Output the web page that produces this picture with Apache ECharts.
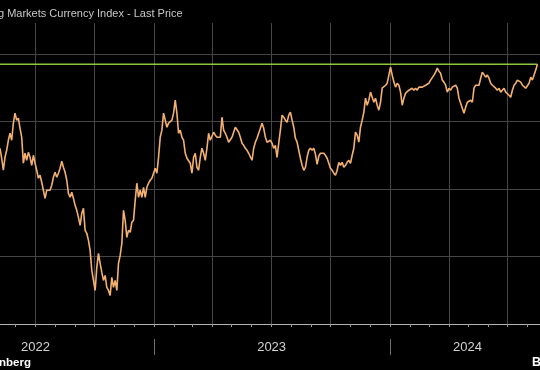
<!DOCTYPE html>
<html><head><meta charset="utf-8">
<script src="https://cdn.jsdelivr.net/npm/echarts@6/dist/echarts.min.js"></script>
<style>html,body{margin:0;padding:0;background:#000;}#c{width:540px;height:370px;}</style>
</head><body><div id="c"></div>
<script>
const titleText = 'g Markets Currency Index - Last Price';
const sourceLeft = 'nberg';
const sourceRight = 'B';
const firstDate = '2022-05-08';
const lastDate = '2024-08-16';
const axisStart = '2022-05-08';
const axisEnd = '2024-08-20';
const highValue = 1742.5;
const values = [
1680.2,1672.8,1663.9,1673.5,1678.7,1686.1,1691.3,1686.1,1698.8,1706.2,
1701.0,1702.5,1695.0,1688.4,1669.1,1676.5,1671.3,1677.2,1673.5,1667.6,
1675.0,1669.1,1663.9,1658.0,1660.2,1655.0,1649.1,1643.1,1649.1,1650.5,
1649.1,1652.8,1658.7,1662.4,1658.7,1661.7,1665.4,1670.6,1666.1,1662.4,
1656.5,1646.8,1643.9,1647.6,1643.1,1637.9,1634.2,1629.0,1623.1,1632.0,
1635.7,1619.4,1617.2,1612.0,1604.5,1589.7,1582.3,1574.9,1591.9,1602.3,
1594.9,1588.2,1582.3,1586.0,1577.1,1574.9,1571.2,1584.5,1577.1,1582.3,
1574.9,1594.9,1600.8,1609.7,1634.2,1626.8,1614.2,1619.4,1617.9,1625.3,
1626.8,1641.6,1654.3,1643.9,1649.1,1643.9,1651.3,1643.9,1651.3,1654.3,
1656.5,1658.0,1661.7,1665.4,1661.7,1673.5,1688.4,1693.6,1706.2,1701.0,
1695.8,1698.8,1699.5,1701.0,1706.2,1715.8,1706.2,1691.3,1693.6,1688.4,
1686.1,1676.5,1672.8,1673.5,1669.1,1661.7,1673.5,1676.5,1666.1,1663.9,
1673.5,1680.2,1676.5,1671.3,1680.2,1691.3,1686.1,1689.1,1692.1,1689.9,
1688.4,1687.6,1688.4,1703.2,1693.6,1691.3,1688.4,1684.7,1686.1,1688.4,
1692.1,1695.8,1695.0,1692.1,1688.4,1683.9,1682.4,1680.2,1678.7,1676.5,
1677.2,1671.3,1680.2,1684.7,1687.6,1691.3,1695.0,1698.8,1695.0,1688.4,
1684.7,1683.9,1686.1,1683.9,1680.2,1682.4,1673.5,1683.9,1693.6,1704.7,
1703.2,1701.0,1699.5,1704.7,1706.9,1701.0,1695.8,1687.6,1684.7,1678.7,
1672.8,1667.6,1663.9,1666.1,1673.5,1678.7,1680.2,1678.7,1680.2,1675.8,
1668.3,1674.3,1676.5,1677.2,1676.5,1675.0,1672.8,1669.1,1665.4,1663.9,
1661.7,1660.2,1663.9,1669.8,1667.6,1669.8,1666.1,1667.6,1669.8,1671.3,
1669.1,1675.0,1680.2,1692.1,1689.9,1684.7,1695.8,1701.0,1706.9,1717.3,
1712.1,1715.8,1721.8,1718.0,1714.3,1717.3,1712.1,1708.4,1714.3,1724.7,
1725.5,1726.9,1728.4,1734.4,1740.3,1734.4,1729.2,1725.5,1728.4,1726.9,
1721.8,1712.1,1717.3,1721.0,1721.8,1723.2,1721.8,1724.7,1723.2,1724.7,
1723.2,1725.5,1724.7,1725.5,1726.9,1726.9,1727.7,1728.4,1730.7,1732.1,
1734.4,1736.6,1739.6,1737.3,1735.8,1730.7,1729.2,1726.9,1721.8,1724.7,
1723.2,1725.5,1724.7,1726.9,1724.7,1717.3,1713.6,1709.9,1706.2,1710.6,
1714.3,1713.6,1715.8,1714.3,1724.7,1726.9,1725.5,1726.9,1732.1,1736.6,
1735.8,1732.9,1734.4,1732.1,1728.4,1726.9,1725.5,1724.7,1723.2,1724.7,
1721.8,1723.2,1724.7,1721.8,1723.2,1719.5,1718.0,1723.2,1726.9,1728.4,
1730.7,1732.1,1729.2,1726.9,1725.5,1724.7,1725.5,1728.4,1732.9,1730.7,
1734.4,1738.1,1742.5
];
const quarterStarts = ['2022-07-01','2022-10-01','2023-01-01','2023-04-01','2023-07-01','2023-10-01','2024-01-01','2024-04-01','2024-07-01'];
const monthStarts = ['2022-06-01','2022-07-01','2022-08-01','2022-09-01','2022-10-01','2022-11-01','2022-12-01',
 '2023-01-01','2023-02-01','2023-03-01','2023-04-01','2023-05-01','2023-06-01','2023-07-01','2023-08-01','2023-09-01','2023-10-01','2023-11-01','2023-12-01',
 '2024-01-01','2024-02-01','2024-03-01','2024-04-01','2024-05-01','2024-06-01','2024-07-01','2024-08-01'];
const yearBoundaries = ['2023-01-01','2024-01-01'];
const yearLabelDates = ['2022-07-02','2023-07-02','2024-04-30'];
const yearLabels = ['2022','2023','2024'];
const yGridValues = [1600,1650,1700,1750];

function T(s){ const p = s.split('-').map(Number); return Date.UTC(p[0], p[1]-1, p[2]); }
const t0 = T(firstDate), t1 = T(lastDate);
const seriesData = values.map((v,i)=>[t0 + (t1-t0)*i/(values.length-1), v]);
const highData = [[t0, highValue],[t1, highValue]];
const labelTimes = yearLabelDates.map(T);
const xMin = T(axisStart), xMax = T(axisEnd);

const chart = echarts.init(document.getElementById('c'), null, {renderer:'canvas'});
chart.setOption({
  backgroundColor:'#000',
  animation:false,
  textStyle:{fontFamily:'Liberation Sans, Arial, sans-serif'},
  title:[
    {text:titleText, left:-2, top:8, padding:0, textStyle:{color:'#c8c8c8', fontSize:11, fontWeight:'normal', fontFamily:'Liberation Sans'}},
    {text:sourceLeft, left:-1, top:357, padding:0, textStyle:{color:'#ffffff', fontSize:11.5, fontWeight:'bold', fontFamily:'Liberation Sans'}},
    {text:sourceRight, left:532, top:356, padding:0, textStyle:{color:'#ffffff', fontSize:12.5, fontWeight:'bold', fontFamily:'Liberation Sans'}}
  ],
  grid:{left:0, right:0, top:23, bottom:46, containLabel:false},
  xAxis:[
    {type:'value', min:xMin, max:xMax, scale:true,
     axisLine:{show:true, lineStyle:{color:'#b4b4b4', width:1}},
     axisTick:{show:false, customValues:quarterStarts.map(T)},
     axisLabel:{show:false},
     splitLine:{show:true, lineStyle:{color:'#464646', width:1}}},
    {type:'value', min:xMin, max:xMax, scale:true, position:'bottom',
     axisLine:{show:false},
     axisTick:{show:true, length:3, customValues:monthStarts.map(T), lineStyle:{color:'#9a9a9a'}},
     axisLabel:{show:false}, splitLine:{show:false}},
    {type:'value', min:xMin, max:xMax, scale:true, position:'bottom', offset:15,
     axisLine:{show:false},
     axisTick:{show:true, length:16, customValues:yearBoundaries.map(T), lineStyle:{color:'#6e6e6e'}},
     axisLabel:{show:true, customValues:labelTimes, margin:2, color:'#d2d2d2', fontSize:13, fontFamily:'Liberation Sans',
       formatter:function(val){ let best=0, d=Infinity; labelTimes.forEach((t,i)=>{ if(Math.abs(t-val)<d){d=Math.abs(t-val);best=i;} }); return yearLabels[best]; }},
     splitLine:{show:false}}
  ],
  yAxis:{type:'value', min:1550, max:1773, interval:50,
    axisLine:{show:false}, axisLabel:{show:false},
    axisTick:{show:false, customValues:yGridValues},
    splitLine:{show:true, lineStyle:{color:'#464646', width:1}}},
  series:[
    {type:'line', name:'High', xAxisIndex:0, data:highData, showSymbol:false, symbol:'none',
     lineStyle:{color:'#8cc63f', width:1.5}, z:2},
    {type:'line', name:'Last Price', xAxisIndex:0, data:seriesData, showSymbol:false, symbol:'none',
     lineStyle:{color:'#f3b070', width:1.6}, z:3}
  ]
});
</script></body></html>
